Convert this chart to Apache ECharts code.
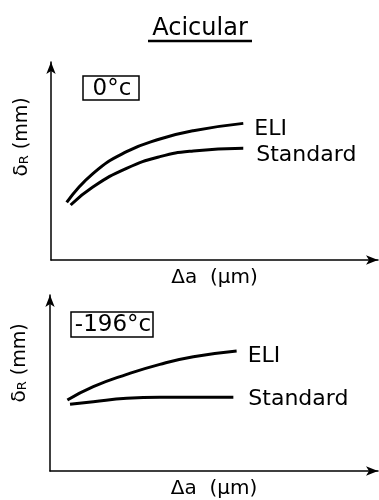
<!DOCTYPE html>
<html>
<head>
<meta charset="utf-8">
<script src="https://cdn.jsdelivr.net/npm/echarts@6/dist/echarts.min.js"></script>
<style>
  html, body { margin: 0; padding: 0; background: #fff; }
  #chart { width: 379px; height: 500px; }
</style>
</head>
<body>
<div id="chart"></div>
<script>
// panel 1: 0°c  (arbitrary units, axes have no ticks)
var eliTopX = [4.8, 12.9, 23.1, 33.3, 43.5, 58.8];
var eliTopY = [29.1, 43.8, 54.7, 61.1, 65.3, 69.0];
var stdTopX = [6.0, 12.9, 23.1, 33.3, 43.5, 58.8];
var stdTopY = [27.8, 37.0, 46.3, 52.2, 55.1, 56.4];

// panel 2: -196°c
var eliBotX = [5.3, 13.2, 23.4, 33.5, 43.7, 56.9];
var eliBotY = [40.3, 47.9, 54.9, 60.6, 64.9, 68.2];
var stdBotX = [6.1, 13.2, 23.4, 33.5, 55.9];
var stdBotY = [37.9, 39.4, 41.3, 41.9, 41.9];

var seriesNames = ['ELI', 'Standard'];
var tempLabels = ['0°c', '-196°c'];

var chartDom = document.getElementById('chart');
var myChart = echarts.init(chartDom);
var font = 'DejaVu Sans';

function pairs(xs, ys) {
  return xs.map(function (x, i) { return [x, ys[i]]; });
}

function axisStyle() {
  return {
    show: true,
    symbol: ['none', 'arrow'],
    symbolSize: [7, 12],
    lineStyle: { color: '#000', width: 1.5 }
  };
}

function makeX(idx) {
  return {
    type: 'value', gridIndex: idx, min: 0, max: 100,
    axisLine: axisStyle(), axisTick: { show: false },
    axisLabel: { show: false }, splitLine: { show: false },
    name: 'Δa  (μm)', nameLocation: 'middle', nameGap: 8,
    nameTextStyle: { color: '#000', fontFamily: font, fontSize: 20, verticalAlign: 'top' }
  };
}

function makeY(idx) {
  return {
    type: 'value', gridIndex: idx, min: 0, max: 100,
    axisLine: axisStyle(), axisTick: { show: false },
    axisLabel: { show: false }, splitLine: { show: false }
  };
}

function makeLine(name, idx, data, offset, dist) {
  return {
    name: name, type: 'line', xAxisIndex: idx, yAxisIndex: idx,
    data: data, smooth: true, showSymbol: false, silent: true,
    lineStyle: { color: '#000', width: 3 },
    endLabel: {
      show: true, formatter: '{a}', color: '#000',
      fontFamily: font, fontSize: 22, distance: dist, offset: offset
    }
  };
}

function yLabel(x, y) {
  return {
    type: 'text', x: x, y: y, rotation: Math.PI / 2,
    style: {
      text: '{d|δ}{r|R} (mm)',
      fill: '#000', align: 'center', verticalAlign: 'middle',
      rich: {
        d: { fontFamily: font, fontSize: 20, fill: '#000' },
        r: { fontFamily: font, fontSize: 13, fill: '#000', padding: [5, 0, 0, 0] }
      },
      fontFamily: font, fontSize: 19
    }
  };
}

function tempBox(x, y, w, h, text) {
  return [
    { type: 'rect', shape: { x: x, y: y, width: w, height: h },
      style: { fill: '#fff', stroke: '#000', lineWidth: 1.5 } },
    { type: 'text', x: x + w / 2 + 1, y: y + h / 2 + 1,
      style: { text: text, fill: '#000', fontFamily: font, fontSize: 23,
               align: 'center', verticalAlign: 'middle' } }
  ];
}

option = {
  backgroundColor: '#fff',
  animation: false,
  grid: [
    { left: 51, right: 1, top: 62, height: 198 },
    { left: 50, right: 1, top: 295, height: 176 }
  ],
  xAxis: [makeX(0), makeX(1)],
  yAxis: [makeY(0), makeY(1)],
  series: [
    makeLine(seriesNames[0], 0, pairs(eliTopX, eliTopY), [0, 6], 11),
    makeLine(seriesNames[1], 0, pairs(stdTopX, stdTopY), [2, 7], 11),
    makeLine(seriesNames[0], 1, pairs(eliBotX, eliBotY), [0, 5], 11),
    makeLine(seriesNames[1], 1, pairs(stdBotX, stdBotY), [0, 2], 15)
  ],
  graphic: [
    { type: 'text', x: 200, y: 29,
      style: { text: 'Acicular', fill: '#000', fontFamily: font, fontSize: 24,
               align: 'center', verticalAlign: 'middle' } },
    { type: 'line', shape: { x1: 148, y1: 41, x2: 252, y2: 41 },
      style: { stroke: '#000', lineWidth: 2.5 } },
    yLabel(22, 137),
    yLabel(20, 363)
  ].concat(tempBox(83, 76, 56, 24, tempLabels[0]))
   .concat(tempBox(71, 312, 82, 25, tempLabels[1]))
};

option && myChart.setOption(option);
</script>
</body>
</html>
